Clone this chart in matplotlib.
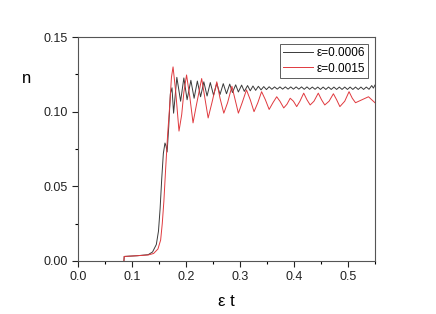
import matplotlib
matplotlib.use('Agg')
import matplotlib.pyplot as plt
from matplotlib.ticker import MultipleLocator

plt.rcParams['font.family'] = ['Liberation Sans', 'DejaVu Sans']

# eps = 0.0006 (black)
t_black = [0.085, 0.0855, 0.11, 0.13, 0.138, 0.145, 0.149, 0.152, 0.155, 0.158,
           0.161, 0.163, 0.165, 0.168, 0.171, 0.174, 0.177, 0.183, 0.190, 0.196,
           0.202, 0.209, 0.215, 0.221, 0.227, 0.233, 0.239, 0.245, 0.251, 0.257,
           0.263, 0.269, 0.275, 0.281, 0.286, 0.292, 0.297, 0.303, 0.308, 0.314,
           0.319, 0.324, 0.329, 0.334, 0.339, 0.344, 0.349, 0.354, 0.359, 0.364,
           0.369, 0.374, 0.379, 0.384, 0.389, 0.394, 0.399, 0.404, 0.409, 0.414,
           0.419, 0.424, 0.429, 0.434, 0.439, 0.444, 0.449, 0.454, 0.459, 0.464,
           0.469, 0.474, 0.479, 0.484, 0.489, 0.494, 0.499, 0.504, 0.509, 0.514,
           0.519, 0.524, 0.529, 0.534, 0.539, 0.544, 0.547, 0.550]
n_black = [0.000, 0.003, 0.0035, 0.0042, 0.006, 0.011, 0.020, 0.035, 0.055, 0.072,
           0.079, 0.077, 0.073, 0.090, 0.112, 0.116, 0.099, 0.123, 0.107, 0.1226,
           0.108, 0.121, 0.109, 0.1205, 0.110, 0.120, 0.1105, 0.1195, 0.111, 0.119,
           0.1115, 0.1188, 0.112, 0.1185, 0.1128, 0.118, 0.1132, 0.1178, 0.1136, 0.1175,
           0.114, 0.1172, 0.1143, 0.117, 0.1146, 0.1168, 0.1148, 0.1167, 0.115, 0.1166,
           0.1151, 0.1166, 0.1151, 0.1166, 0.1151, 0.1166, 0.1151, 0.1166, 0.1151, 0.1166,
           0.1150, 0.1166, 0.1150, 0.1165, 0.1150, 0.1165, 0.1149, 0.1165, 0.1149, 0.1165,
           0.1149, 0.1165, 0.1149, 0.1165, 0.1149, 0.1165, 0.1149, 0.1165, 0.1149, 0.1165,
           0.1149, 0.1165, 0.1149, 0.1165, 0.1150, 0.1175, 0.1158, 0.1178]

# eps = 0.0015 (red)
t_red = [0.085, 0.0855, 0.11, 0.13, 0.14, 0.148, 0.153, 0.156, 0.159, 0.162,
         0.166, 0.170, 0.173, 0.176, 0.181, 0.187, 0.192, 0.196, 0.201, 0.207,
         0.213, 0.219, 0.229, 0.235, 0.241, 0.248, 0.257, 0.263, 0.270, 0.277,
         0.285, 0.291, 0.297, 0.304, 0.312, 0.319, 0.326, 0.333, 0.340, 0.347,
         0.354, 0.361, 0.368, 0.374, 0.381, 0.387, 0.393, 0.399, 0.405, 0.411,
         0.418, 0.424, 0.430, 0.437, 0.445, 0.451, 0.457, 0.465, 0.473, 0.479,
         0.485, 0.494, 0.502, 0.508, 0.514, 0.520, 0.526, 0.532, 0.538, 0.544,
         0.550]
n_red = [0.000, 0.003, 0.0035, 0.004, 0.005, 0.008, 0.014, 0.025, 0.040, 0.060,
         0.085, 0.105, 0.123, 0.130, 0.113, 0.087, 0.098, 0.113, 0.1246, 0.110,
         0.0925, 0.104, 0.1222, 0.109, 0.0958, 0.106, 0.120, 0.109, 0.099, 0.106,
         0.117, 0.108, 0.099, 0.106, 0.1146, 0.108, 0.100, 0.106, 0.1134, 0.108,
         0.1015, 0.106, 0.110, 0.107, 0.1025, 0.105, 0.109, 0.107, 0.1034, 0.107,
         0.1124, 0.108, 0.1045, 0.107, 0.1124, 0.108, 0.1045, 0.107, 0.112, 0.108,
         0.1034, 0.107, 0.1134, 0.109, 0.106, 0.107, 0.108, 0.109, 0.110, 0.108,
         0.106]

labels = ['\u03b5=0.0006', '\u03b5=0.0015']

fig = plt.figure(figsize=(4.36, 3.14), dpi=100)
ax = fig.add_axes([0.179, 0.169, 0.681, 0.713])

ax.plot(t_black, n_black, color='#3a3a3a', linewidth=0.7, label=labels[0])
ax.plot(t_red, n_red, color='#e0393e', linewidth=0.7, label=labels[1])

ax.set_xlim(0.0, 0.55)
ax.set_ylim(0.0, 0.15)
ax.xaxis.set_major_locator(MultipleLocator(0.1))
ax.xaxis.set_minor_locator(MultipleLocator(0.05))
ax.yaxis.set_major_locator(MultipleLocator(0.05))
ax.yaxis.set_minor_locator(MultipleLocator(0.025))
ax.xaxis.set_major_formatter(plt.FormatStrFormatter('%.1f'))
ax.yaxis.set_major_formatter(plt.FormatStrFormatter('%.2f'))
ax.tick_params(which='major', direction='out', length=4, width=0.8, labelsize=9, colors='#222222')
ax.tick_params(which='minor', direction='out', length=2.5, width=0.8)
for s in ax.spines.values():
    s.set_linewidth(0.8)
    s.set_color('#555555')

ax.text(-0.095, 0.122, 'n', fontsize=12, ha='center', va='center')
ax.set_xlabel('\u03b5 t', fontsize=12, labelpad=8)

leg = ax.legend(loc='upper right', fontsize=8.5, frameon=True, fancybox=False,
                edgecolor='#333333', handlelength=2.5, handletextpad=0.3,
                borderpad=0.3, labelspacing=0.3, borderaxespad=0.55)
leg.get_frame().set_linewidth(0.7)

fig.savefig('out.png', dpi=100)
